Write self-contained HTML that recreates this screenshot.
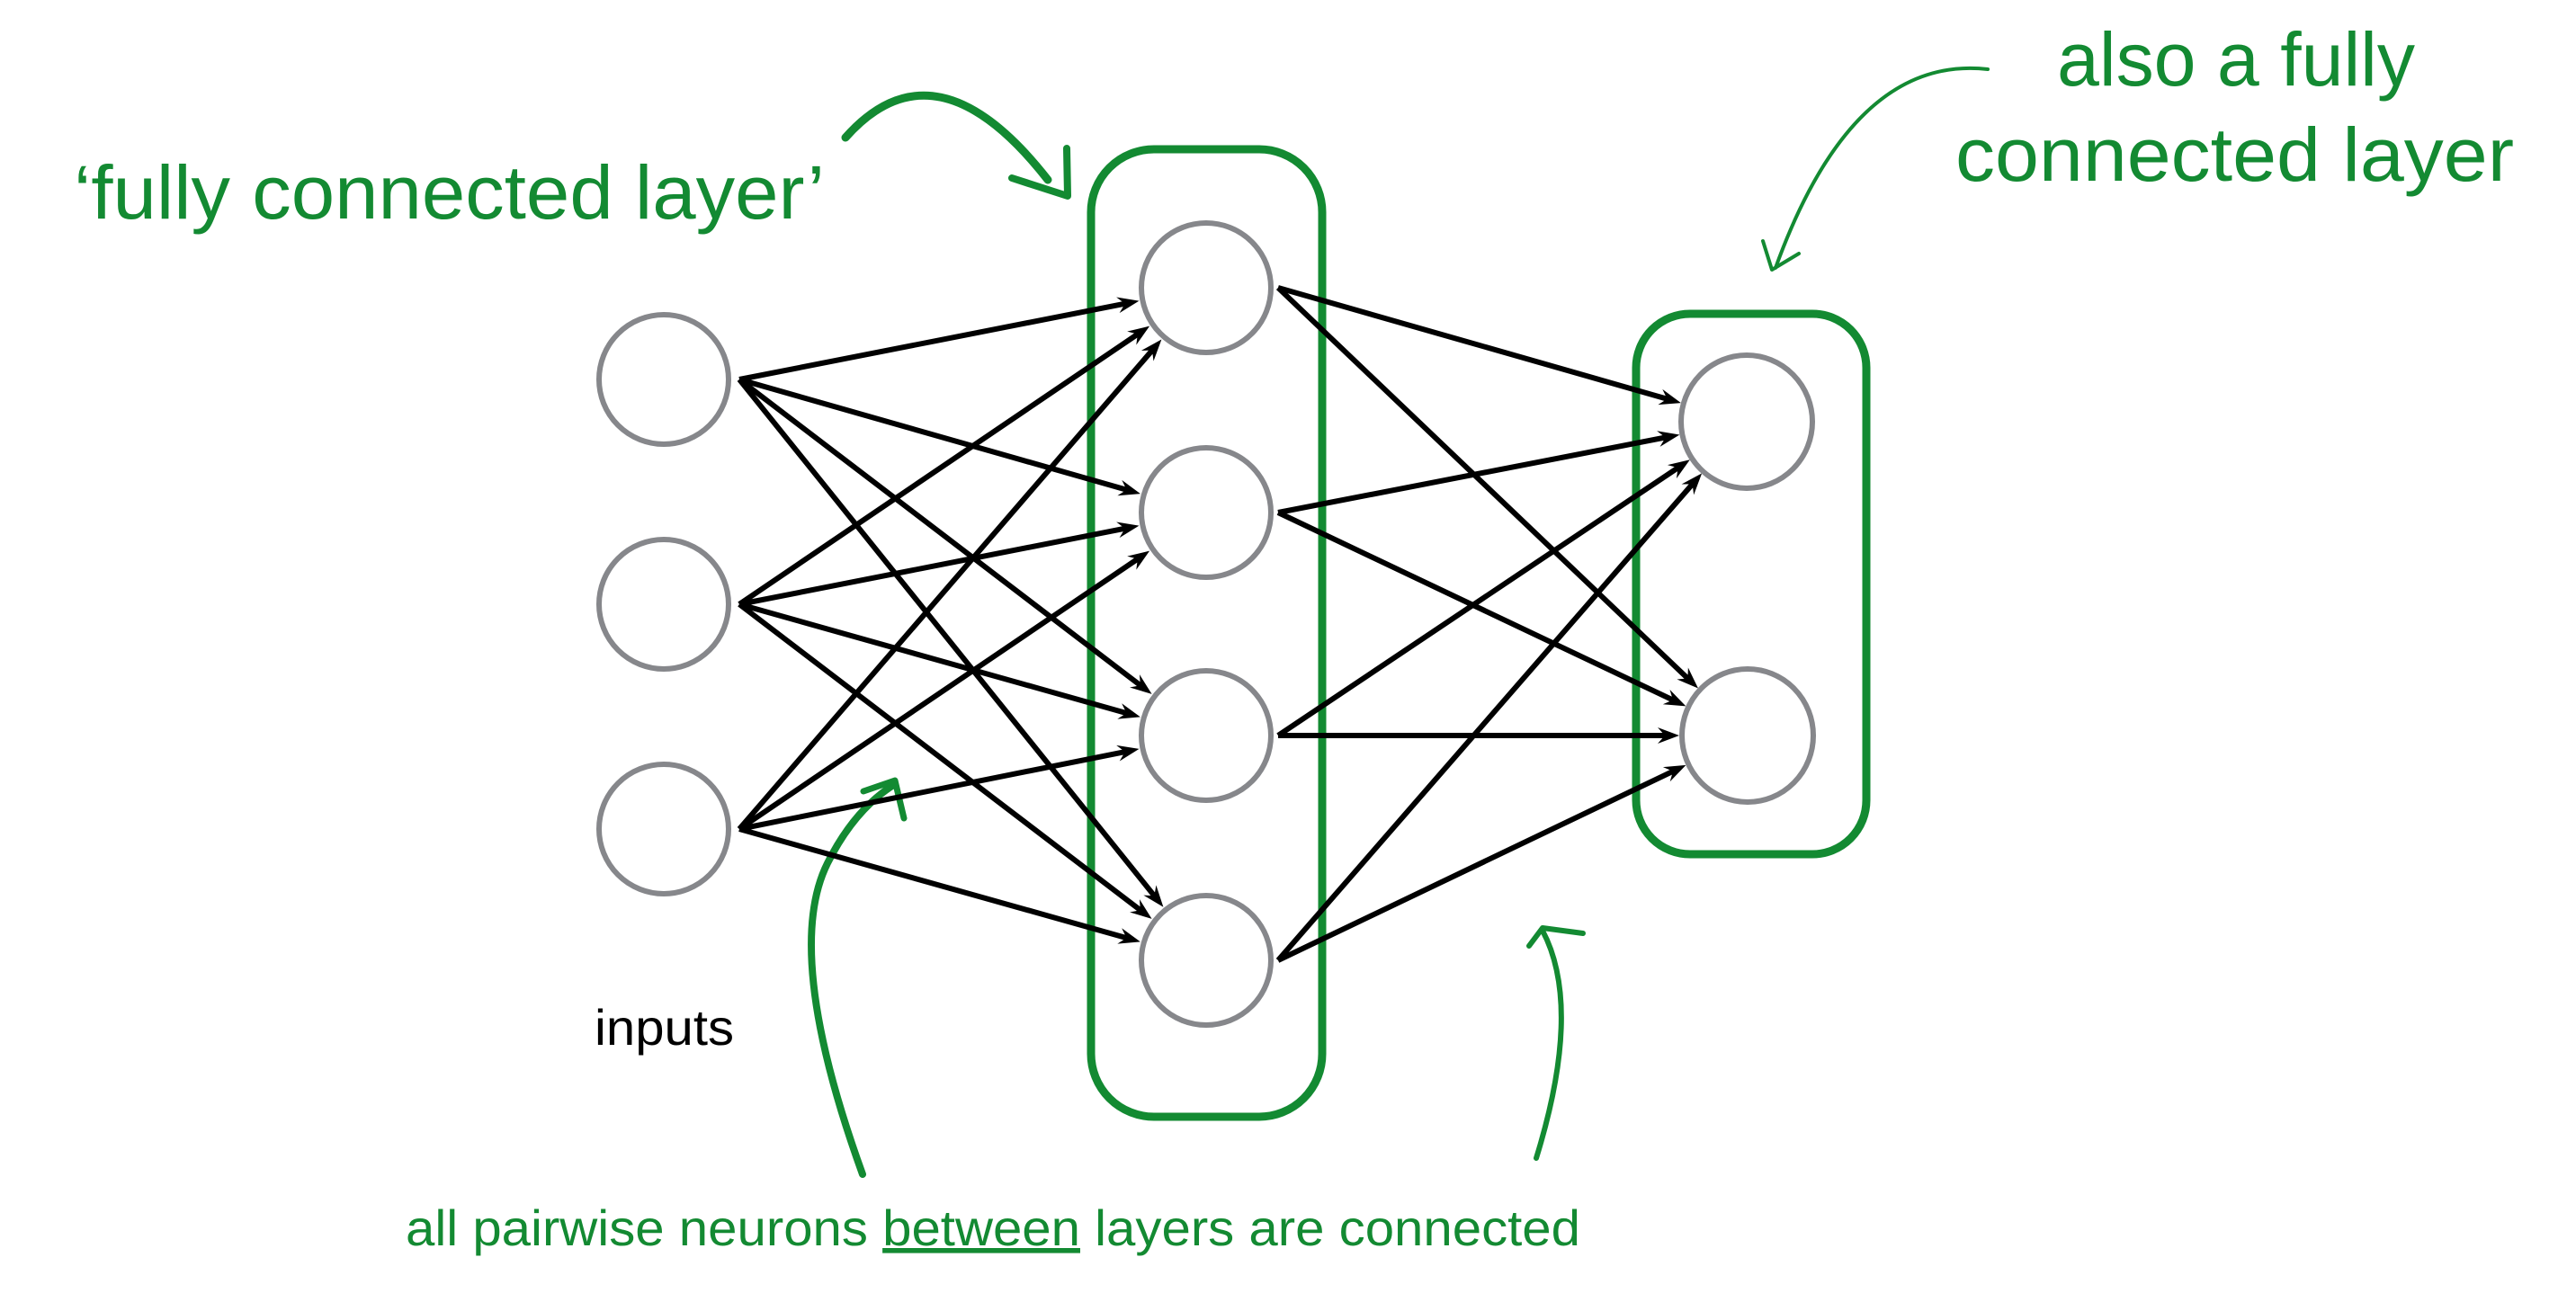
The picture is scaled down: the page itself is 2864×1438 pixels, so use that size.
<!DOCTYPE html>
<html><head><meta charset="utf-8"><style>
html,body{margin:0;padding:0;background:#fff;}
svg{display:block;}
text{font-family:"Liberation Sans",sans-serif;}
</style></head><body>
<svg id="s" width="2864" height="1438" viewBox="0 0 2864 1438" xmlns="http://www.w3.org/2000/svg">
<g fill="none" stroke="#138a32" stroke-linecap="round" stroke-linejoin="round">
<rect x="1213" y="166" width="257" height="1076" rx="70" stroke-width="9"/>
<rect x="1819" y="349" width="256" height="601" rx="60" stroke-width="9"/>
<path d="M940 153 Q1040 40 1165 200" stroke-width="9"/>
<path d="M1186 165 L1187 218 L1125 198" stroke-width="8"/>
<path d="M2210 77 Q2060 60 1974 298" stroke-width="4"/>
<path d="M1960 268 L1970 300 L2000 282" stroke-width="4"/>
<path d="M959 1306 Q870 1060 920 960 Q950 900 995 872" stroke-width="8"/>
<path d="M960 880 L995 868 L1005 910" stroke-width="7"/>
<path d="M1708 1288 Q1760 1120 1715 1035" stroke-width="6"/>
<path d="M1700 1052 L1715 1032 L1760 1038" stroke-width="6"/>
</g>
<g id="edges" stroke="#000" stroke-width="6"></g>
<g id="arr" fill="#000"></g>
<g fill="#fff" stroke="#86878b" stroke-width="6">
<ellipse cx="738" cy="422" rx="72" ry="72"/>
<ellipse cx="738" cy="672" rx="72" ry="72"/>
<ellipse cx="738" cy="922" rx="72" ry="72"/>
<ellipse cx="1341" cy="320" rx="72" ry="72"/>
<ellipse cx="1341" cy="570" rx="72" ry="72"/>
<ellipse cx="1341" cy="818" rx="72" ry="72"/>
<ellipse cx="1341" cy="1068" rx="72" ry="72"/>
<ellipse cx="1942" cy="469" rx="73" ry="74"/>
<ellipse cx="1943" cy="818" rx="73" ry="74"/>
</g>
<g fill="#138a32">
<text x="82" y="243" font-size="84" textLength="835" lengthAdjust="spacingAndGlyphs">‘fully connected layer’</text>
<text x="2287" y="95" font-size="84" textLength="398" lengthAdjust="spacingAndGlyphs">also a fully</text>
<text x="2174" y="201" font-size="84" textLength="621" lengthAdjust="spacingAndGlyphs">connected layer</text>
<text x="451" y="1385" font-size="56" textLength="1306" lengthAdjust="spacingAndGlyphs">all pairwise neurons <tspan text-decoration="underline">between</tspan> layers are connected</text>
</g>
<text x="661" y="1162" font-size="56" fill="#000" textLength="155" lengthAdjust="spacingAndGlyphs">inputs</text>
</svg>
<script>
var NS="http://www.w3.org/2000/svg";
var inp=[[738,422],[738,672],[738,922]];
var hid=[[1341,320],[1341,570],[1341,818],[1341,1068]];
var out=[[1942,469],[1943,818]];
var E=document.getElementById("edges"),A=document.getElementById("arr");
function conn(src,dst,sx){
 src.forEach(function(s){dst.forEach(function(d){
  var x1=s[0]+sx,y1=s[1];
  var dx=d[0]-x1,dy=d[1]-y1,L=Math.hypot(dx,dy),ux=dx/L,uy=dy/L;
  var ex=d[0]-ux*76,ey=d[1]-uy*76;
  var l=document.createElementNS(NS,"line");
  l.setAttribute("x1",x1);l.setAttribute("y1",y1);
  l.setAttribute("x2",ex-ux*10);l.setAttribute("y2",ey-uy*10);E.appendChild(l);
  var px=-uy,py=ux,bx=ex-ux*24,by=ey-uy*24;
  var p=document.createElementNS(NS,"polygon");
  p.setAttribute("points",ex+","+ey+" "+(bx+px*9)+","+(by+py*9)+" "+(ex-ux*16)+","+(ey-uy*16)+" "+(bx-px*9)+","+(by-py*9));
  A.appendChild(p);
 });});
}
conn(inp,hid,84);
conn(hid,out,80);
</script>
</body></html>
